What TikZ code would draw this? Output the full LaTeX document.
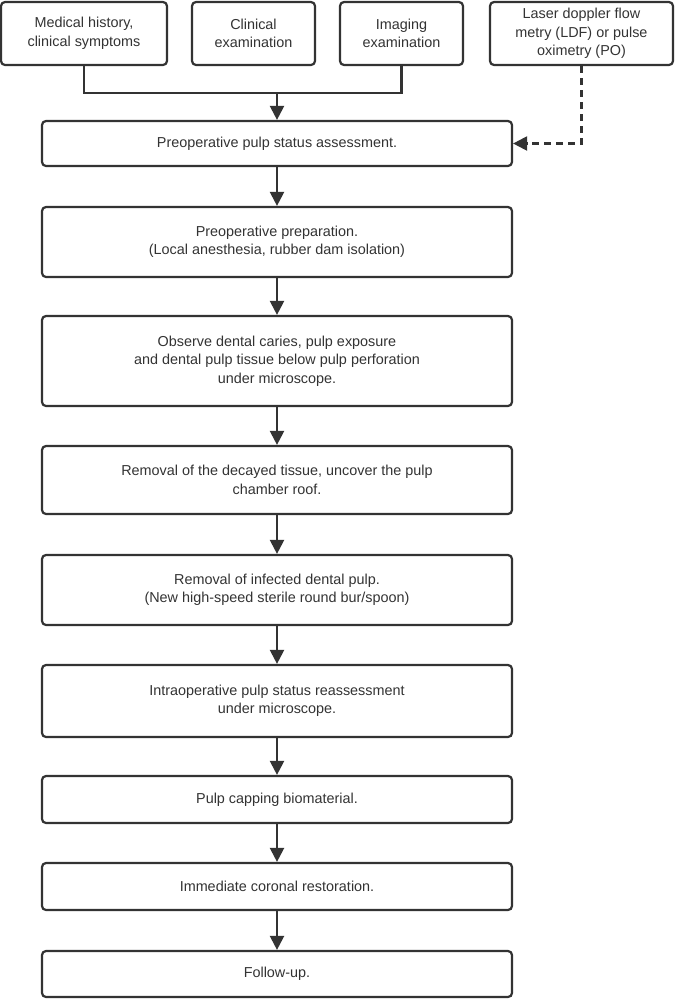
\documentclass[tikz,border=0pt]{standalone}
\usepackage{fontspec}
\setmainfont{Liberation Sans}
\usetikzlibrary{arrows.meta}
\definecolor{ink}{HTML}{333333}
\begin{document}
\begin{tikzpicture}[x=1pt,y=-1pt,
  box/.style={draw=ink,line width=2.2pt,rounded corners=4pt,fill=white,inner sep=0pt,align=center,text=ink,font=\fontsize{14.4}{18.5}\selectfont},
  conn/.style={draw=ink,line width=2.2pt},
  arr/.style={conn,-{Triangle[length=14pt,width=14pt]}},
  darr/.style={conn,dash pattern=on 7pt off 5pt,-{Triangle[length=14pt,width=14pt]}}]
\useasboundingbox[fill=white] (0,0) rectangle (675,999);
% top boxes
\node[box,minimum width=166pt,minimum height=63pt] (t1) at (84,33.5) {Medical history,\\clinical symptoms};
\node[box,minimum width=123pt,minimum height=63pt] (t2) at (253.5,33.5) {Clinical\\examination};
\node[box,minimum width=123pt,minimum height=63pt] (t3) at (401.5,33.5) {Imaging\\examination};
\node[box,minimum width=183pt,minimum height=63pt] (t4) at (581.5,33.5) {Laser doppler flow\\metry (LDF) or pulse\\oximetry (PO)};
% main column
\node[box,minimum width=470pt,minimum height=45pt] (b1) at (277,143.5) {Preoperative pulp status assessment.};
\node[box,minimum width=470pt,minimum height=70pt] (b2) at (277,242) {Preoperative preparation.\\(Local anesthesia, rubber dam isolation)};
\node[box,minimum width=470pt,minimum height=90pt] (b3) at (277,361) {Observe dental caries, pulp exposure\\and dental pulp tissue below pulp perforation\\under microscope.};
\node[box,minimum width=470pt,minimum height=68pt] (b4) at (277,480) {Removal of the decayed tissue, uncover the pulp\\chamber roof.};
\node[box,minimum width=470pt,minimum height=70pt] (b5) at (277,590) {Removal of infected dental pulp.\\(New high-speed sterile round bur/spoon)};
\node[box,minimum width=470pt,minimum height=72pt] (b6) at (277,701) {Intraoperative pulp status reassessment\\under microscope.};
\node[box,minimum width=470pt,minimum height=47pt] (b7) at (277,799.5) {Pulp capping biomaterial.};
\node[box,minimum width=470pt,minimum height=47pt] (b8) at (277,886.5) {Immediate coronal restoration.};
\node[box,minimum width=470pt,minimum height=46pt] (b9) at (277,974) {Follow-up.};
% merge connector
\coordinate (m1) at (84,93);
\coordinate (m3) at (401.5,93);
\coordinate (mc) at (277,93);
\draw[conn] (t1.south) -- (m1) -- (m3) -- (t3.south);
\draw[arr] (mc) -- (b1.north);
\draw[darr] (t4.south) |- (b1.east);
% main arrows
\draw[arr] (b1) -- (b2);
\draw[arr] (b2) -- (b3);
\draw[arr] (b3) -- (b4);
\draw[arr] (b4) -- (b5);
\draw[arr] (b5) -- (b6);
\draw[arr] (b6) -- (b7);
\draw[arr] (b7) -- (b8);
\draw[arr] (b8) -- (b9);
\end{tikzpicture}
\end{document}
